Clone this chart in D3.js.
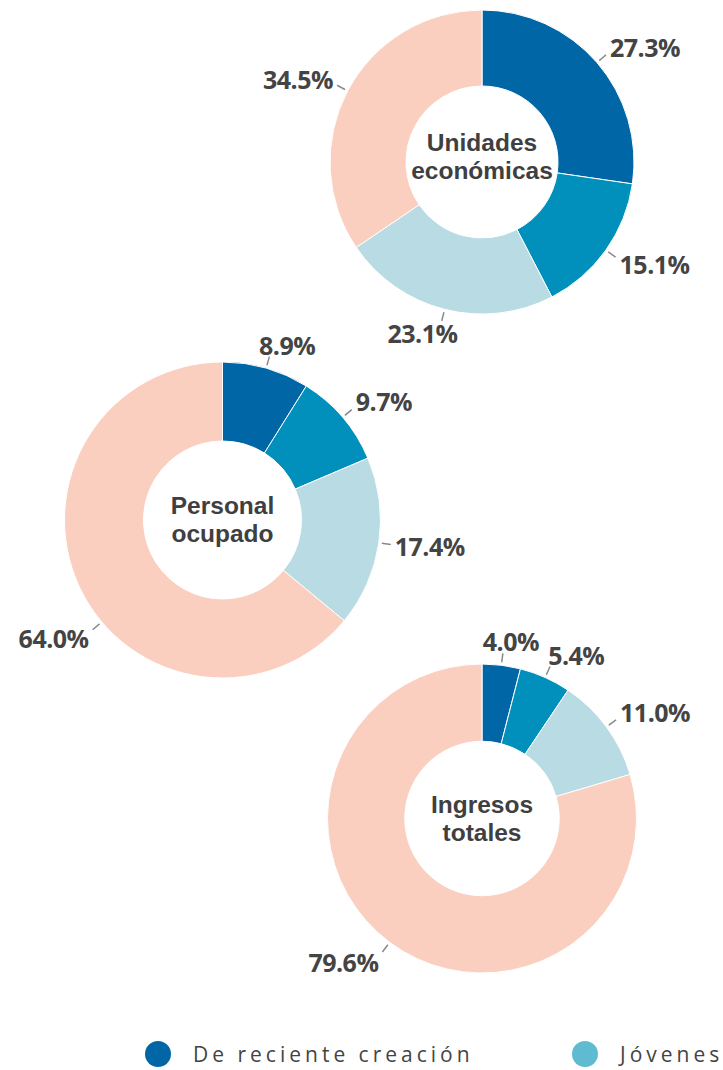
<!DOCTYPE html>
<html>
<head>
<meta charset="utf-8">
<script src="https://cdn.jsdelivr.net/npm/d3@7"></script>
<style>
body { margin: 0; background: #fff; }
</style>
</head>
<body>
<div id="root"></div>
<script>
var width = 723;
var height = 1070;

// values (percent of total)
var titles = [["Unidades", "económicas"], ["Personal", "ocupado"], ["Ingresos", "totales"]];
var unidades = [27.3, 15.1, 23.1, 34.5];
var personal = [8.9, 9.7, 17.4, 64.0];
var ingresos = [4.0, 5.4, 11.0, 79.6];
var legendLabels = ["De reciente creación", "Jóvenes"];

var sliceColors = ["#0066a6", "#0090bb", "#b8dbe4", "#facfbf"];
var legendColors = ["#0066a6", "#5fbcd0"];

// where each donut sits on the page
var layout = [
	{cx: 482, cy: 162, r: 152, titleY: -11},
	{cx: 222.5, cy: 520, r: 158, titleY: -6},
	{cx: 482, cy: 818.5, r: 154.5, titleY: -6}
];
var series = [unidades, personal, ingresos];
var edgeMargin = 18;

var svg =
d3.select("#root")
.append("svg")
.attr("width", width)
.attr("height", height)
.style("font-family", "'Open Sans', 'Noto Sans', sans-serif");

var pie = d3.pie()
.sort(null)
.value(function(d) { return d; });

series.forEach(function(values, i) {
	var pos = layout[i];
	var r = pos.r;

	var arc = d3.arc()
	.innerRadius(r * 0.5)
	.outerRadius(r);

	var g = svg.append("g")
	.attr("transform", "translate(" + pos.cx + "," + pos.cy + ")");

	var slices = pie(values);

	g.selectAll("path")
	.data(slices)
	.enter()
	.append("path")
	.attr("d", arc)
	.attr("fill", function(d, j) { return sliceColors[j]; })
	.attr("stroke", "#fff")
	.attr("stroke-width", 1);

	/*
	leader lines + percent labels
	line runs out along the middle angle, text sits just past its end
	(to the side on left/right, above or below near top/bottom).
	if the text would leave the page, slide it round toward the bottom/top
	*/
	slices.forEach(function(d) {
		var label = g.append("text")
		.text(d3.format(".1f")(d.data) + "%")
		.attr("text-anchor", "middle")
		.attr("dominant-baseline", "central")
		.attr("font-size", "25px")
		.attr("font-weight", "bold")
		.attr("letter-spacing", "-0.5px")
		.attr("fill", "#444");

		var w = label.node().getComputedTextLength();
		var h = 17;

		function place(a) {
			var ux = Math.sin(a);
			var uy = -Math.cos(a);
			var ex = ux * (r + 12);
			var ey = uy * (r + 12);
			var side = Math.max(-1, Math.min(1, ux * 2));
			return {a: a, ux: ux, uy: uy, ex: ex, ey: ey,
				tx: ex + side * (w / 2 + 4), ty: ey + uy * (h / 2 + 4)};
		}

		var mid = (d.startAngle + d.endAngle) / 2;
		var p = place(mid);
		var step = Math.PI / 360;
		var towards = Math.cos(mid) < 0 ? (Math.sin(mid) < 0 ? -1 : 1) : (Math.sin(mid) < 0 ? 1 : -1);
		var n = 0;
		while (n < 120 &&
			(pos.cx + p.tx - w / 2 < edgeMargin || pos.cx + p.tx + w / 2 > width - edgeMargin)) {
			p = place(p.a + towards * step);
			n++;
		}

		g.insert("line", "text")
		.attr("x1", p.ux * (r + 3))
		.attr("y1", p.uy * (r + 3))
		.attr("x2", p.ex)
		.attr("y2", p.ey)
		.attr("stroke", "#8a8a8a")
		.attr("stroke-width", 1.5);

		label
		.attr("x", p.tx)
		.attr("y", p.ty);
	});

	// title in the hole, one text with two lines
	var title = g.append("text")
	.attr("text-anchor", "middle")
	.attr("font-family", "'Liberation Sans', Arial, sans-serif")
	.attr("font-size", "24.5px")
	.attr("font-weight", "bold")
	.attr("fill", "#3f3f41");

	title.selectAll("tspan")
	.data(titles[i])
	.enter()
	.append("tspan")
	.attr("x", 0)
	.attr("y", function(d, j) { return pos.titleY + j * 28; })
	.text(function(d) { return d; });
});

//legend
var legendX = [158, 585];
var legend = svg.append("g")
.attr("transform", "translate(0, 1054)");

var items = legend.selectAll("g")
.data(legendLabels)
.enter()
.append("g")
.attr("transform", function(d, i) { return "translate(" + legendX[i] + ",0)"; });

items.append("circle")
.attr("r", 13)
.attr("fill", function(d, i) { return legendColors[i]; });

items.append("text")
.attr("x", 35)
.attr("dominant-baseline", "central")
.attr("font-size", "21px")
.attr("letter-spacing", "4px")
.attr("fill", "#444")
.text(function(d) { return d; });
</script>
</body>
</html>
